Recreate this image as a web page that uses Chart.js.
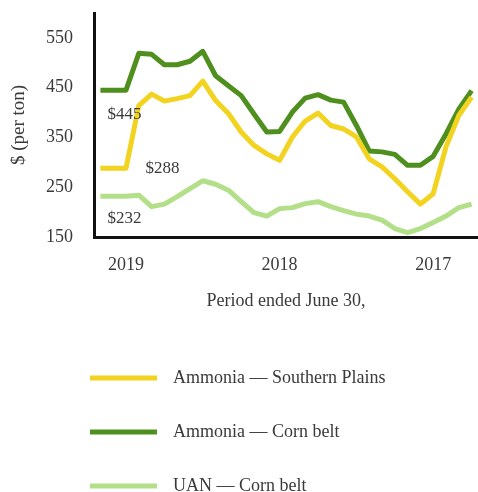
<!DOCTYPE html>
<html>
<head>
<meta charset="utf-8">
<script src="https://cdn.jsdelivr.net/npm/chart.js@4.4.1/dist/chart.umd.min.js"></script>
<style>
  html, body { margin: 0; padding: 0; background: #fff; }
  #wrap { width: 478px; height: 492px; position: relative; }
</style>
</head>
<body>
<div id="wrap"><canvas id="priceChart"></canvas></div>
<script>
// Monthly periods, most recent first
const periods = [
  'Aug 2019', 'Jul 2019', 'Jun 2019', 'May 2019', 'Apr 2019', 'Mar 2019',
  'Feb 2019', 'Jan 2019', 'Dec 2018', 'Nov 2018', 'Oct 2018', 'Sep 2018',
  'Aug 2018', 'Jul 2018', 'Jun 2018', 'May 2018', 'Apr 2018', 'Mar 2018',
  'Feb 2018', 'Jan 2018', 'Dec 2017', 'Nov 2017', 'Oct 2017', 'Sep 2017',
  'Aug 2017', 'Jul 2017', 'Jun 2017', 'May 2017', 'Apr 2017', 'Mar 2017'
];

const ammoniaSouthernPlains = [288, 288, 288, 414, 437, 423, 428, 434, 463, 424, 398, 361, 334, 317, 304,
  351, 383, 399, 374, 367, 351, 307, 291, 267, 241, 216, 237, 331, 394, 431];
const ammoniaCornBelt = [445, 445, 445, 519, 517, 496, 496, 503, 523, 474, 454, 434, 397, 361, 362,
  401, 429, 436, 425, 421, 374, 323, 321, 316, 294, 294, 312, 357, 407, 444];
const uanCornBelt = [232, 232, 232, 234, 211, 216, 231, 247, 263, 256, 244, 221, 199, 192, 207,
  209, 217, 221, 211, 203, 196, 192, 184, 167, 159, 167, 179, 192, 209, 216];

const seriesNames = ['Ammonia \u2014 Southern Plains', 'Ammonia \u2014 Corn belt', 'UAN \u2014 Corn belt'];
const yTicks = [150, 250, 350, 450, 550];

const SERIF = '"Liberation Serif", "Times New Roman", serif';
const TEXT = '#3a3a3a';

// "$445" style labels next to the first point of each line
const startLabels = {
  id: 'startLabels',
  afterDatasetsDraw(chart) {
    const offsets = [[45, 0], [7, 24], [7, 22]];
    const ctx = chart.ctx;
    ctx.save();
    ctx.font = '17px ' + SERIF;
    ctx.fillStyle = TEXT;
    ctx.textAlign = 'left';
    ctx.textBaseline = 'middle';
    chart.data.datasets.forEach((ds, i) => {
      const pt = chart.getDatasetMeta(i).data[0];
      ctx.fillText('$' + ds.data[0], pt.x + offsets[i][0], pt.y + offsets[i][1]);
    });
    ctx.restore();
  }
};

// legend stacked one entry per row below the axis
const stackedLegend = {
  id: 'stackedLegend',
  afterDraw(chart) {
    const ctx = chart.ctx;
    const rows = [378, 432, 486];
    ctx.save();
    ctx.font = '18px ' + SERIF;
    ctx.textBaseline = 'middle';
    ctx.textAlign = 'left';
    chart.data.datasets.forEach((ds, i) => {
      ctx.strokeStyle = ds.borderColor;
      ctx.lineWidth = 5;
      ctx.beginPath();
      ctx.moveTo(90, rows[i]);
      ctx.lineTo(157, rows[i]);
      ctx.stroke();
      ctx.fillStyle = TEXT;
      ctx.fillText(ds.label, 173, rows[i]);
    });
    ctx.restore();
  }
};

// keep the axes from reserving extra room for edge labels
function noEdgePadding(s) {
  s.paddingTop = 0;
  s.paddingBottom = 0;
  s.paddingLeft = 0;
  s.paddingRight = 0;
}

const ctx = document.getElementById('priceChart').getContext('2d');
new Chart(ctx, {
  type: 'line',
  data: {
    labels: periods,
    datasets: [
      { label: seriesNames[0], data: ammoniaSouthernPlains, borderColor: '#f2d31f' },
      { label: seriesNames[1], data: ammoniaCornBelt, borderColor: '#4f8f1e' },
      { label: seriesNames[2], data: uanCornBelt, borderColor: '#b2df88' }
    ].map(d => Object.assign(d, {
      borderWidth: 5,
      pointRadius: 0,
      tension: 0,
      fill: false,
      borderJoinStyle: 'round',
      borderCapStyle: 'butt'
    }))
  },
  options: {
    responsive: true,
    maintainAspectRatio: false,
    animation: false,
    layout: { padding: { left: 0, top: 13, right: 0, bottom: 180 } },
    plugins: {
      legend: { display: false },
      tooltip: { enabled: false }
    },
    scales: {
      x: {
        type: 'category',
        offset: true,
        grid: { display: false, drawTicks: false, offset: false },
        border: { display: true, color: '#111', width: 3 },
        ticks: {
          autoSkip: false,
          maxRotation: 0,
          padding: 17,
          color: TEXT,
          font: { family: SERIF, size: 18 },
          callback: function (value) {
            const p = this.getLabelForValue(value);
            return p.startsWith('Jun') ? p.slice(4) : '';
          }
        },
        title: {
          display: true,
          text: 'Period ended June 30,',
          color: TEXT,
          font: { family: SERIF, size: 18 },
          padding: { top: 0, bottom: 0 }
        },
        afterFit: s => { s.height = 75; noEdgePadding(s); }
      },
      y: {
        min: 150,
        max: 600,
        grid: { display: false, drawTicks: false },
        border: { display: true, color: '#111', width: 3 },
        afterBuildTicks: s => { s.ticks = yTicks.map(v => ({ value: v })); },
        ticks: {
          padding: 21,
          color: TEXT,
          font: { family: SERIF, size: 18 }
        },
        title: {
          display: true,
          text: '$ (per ton)',
          color: TEXT,
          font: { family: SERIF, size: 19 },
          padding: { top: 8, bottom: 0 }
        },
        afterFit: s => { s.width = 94; noEdgePadding(s); }
      }
    }
  },
  plugins: [startLabels, stackedLegend]
});
</script>
</body>
</html>
